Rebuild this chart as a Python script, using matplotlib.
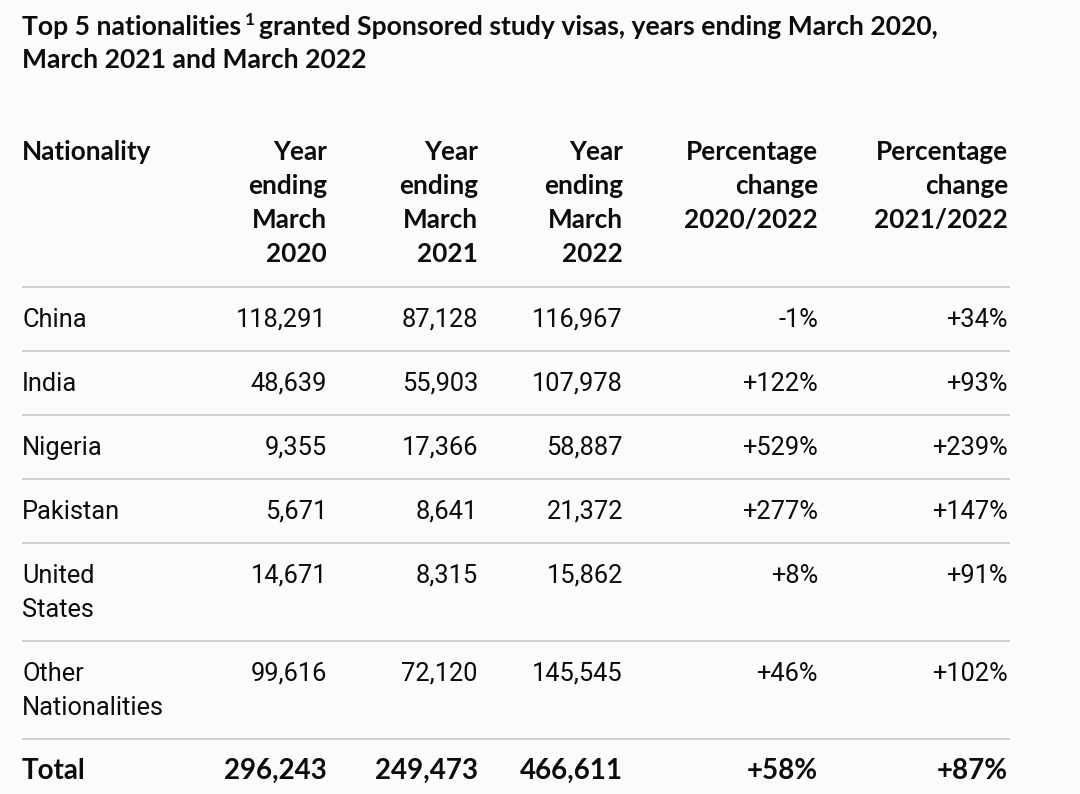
import matplotlib
matplotlib.use("Agg")
import matplotlib.pyplot as plt

title_lines = ["Top 5 nationalities", "granted Sponsored study visas, years ending March 2020,", "March 2021 and March 2022"]
headers = [["Nationality"],
           ["Year", "ending", "March", "2020"],
           ["Year", "ending", "March", "2021"],
           ["Year", "ending", "March", "2022"],
           ["Percentage", "change", "2020/2022"],
           ["Percentage", "change", "2021/2022"]]
nationalities = [["China"], ["India"], ["Nigeria"], ["Pakistan"], ["United", "States"],
                 ["Other", "Nationalities"], ["Total"]]
ye2020 = ["118,291", "48,639", "9,355", "5,671", "14,671", "99,616", "296,243"]
ye2021 = ["87,128", "55,903", "17,366", "8,641", "8,315", "72,120", "249,473"]
ye2022 = ["116,967", "107,978", "58,887", "21,372", "15,862", "145,545", "466,611"]
pct_2020_2022 = ["-1%", "+122%", "+529%", "+277%", "+8%", "+46%", "+58%"]
pct_2021_2022 = ["+34%", "+93%", "+239%", "+147%", "+91%", "+102%", "+87%"]

W, H = 1080, 794
fig = plt.figure(figsize=(W / 100, H / 100), dpi=100)
fig.patch.set_facecolor("#fbfbfb")
ax = fig.add_axes([0, 0, 1, 1])
ax.set_xlim(0, W)
ax.set_ylim(H, 0)
ax.axis("off")

TXT = "#0b0c0c"
LINE = "#cfd0d1"
BOLD_FONT = "Lato"
BODY_FONT = "Roboto"
FS_TITLE = 19.1
FS_BOLD = 18.8
FS_BODY = 18.3
FS_TOTAL = 20.0
LH = 34

# title
t0 = ax.text(22, 35, title_lines[0], fontsize=FS_TITLE, fontweight="bold", family=BOLD_FONT,
             color=TXT, va="baseline", ha="left")
fig.canvas.draw()
bb = t0.get_window_extent()
x_end = bb.x1
ax.text(x_end + 4, 25, "1", fontsize=12.5, fontweight="bold", family=BOLD_FONT,
        color=TXT, va="baseline", ha="left")
ax.text(x_end + 18, 35, title_lines[1], fontsize=FS_TITLE, fontweight="bold", family=BOLD_FONT,
        color=TXT, va="baseline", ha="left")
ax.text(22, 68, title_lines[2], fontsize=FS_TITLE, fontweight="bold", family=BOLD_FONT,
        color=TXT, va="baseline", ha="left")

# columns: x anchor and alignment
col_x = [22, 327, 478, 623, 818, 1008]
col_ha = ["left", "right", "right", "right", "right", "right"]

header_base = 160
for ci, lines in enumerate(headers):
    for li, s in enumerate(lines):
        ax.text(col_x[ci], header_base + li * LH, s, fontsize=FS_BOLD, fontweight="bold",
                family=BOLD_FONT, color=TXT, va="baseline", ha=col_ha[ci])

line_ys = [287, 351, 415, 479, 543, 641, 739]
for y in line_ys:
    ax.plot([22, 1010], [y, y], color=LINE, lw=1.4, solid_capstyle="butt")

row_base = [327, 391, 455, 519, 583, 681, 779]
for ri in range(len(nationalities)):
    is_total = ri == len(nationalities) - 1
    weight = "bold" if is_total else "normal"
    fam = BOLD_FONT if is_total else BODY_FONT
    fs = FS_TOTAL if is_total else FS_BODY
    cells = [nationalities[ri], [ye2020[ri]], [ye2021[ri]], [ye2022[ri]],
             [pct_2020_2022[ri]], [pct_2021_2022[ri]]]
    for ci, lines in enumerate(cells):
        for li, s in enumerate(lines):
            ax.text(col_x[ci], row_base[ri] + li * LH, s, fontsize=fs, fontweight=weight,
                    family=fam, color=TXT, va="baseline", ha=col_ha[ci])

fig.savefig("out.png", dpi=100, facecolor=fig.get_facecolor())
